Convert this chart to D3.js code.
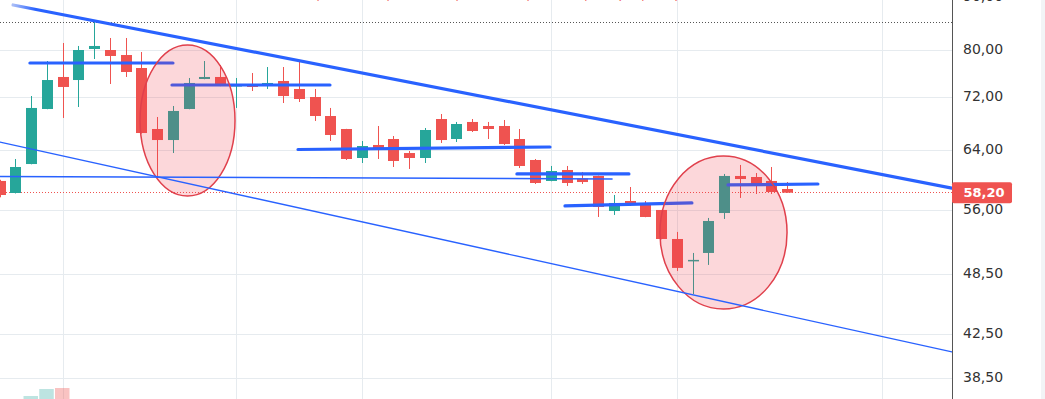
<!DOCTYPE html>
<html>
<head>
<meta charset="utf-8">
<script src="https://cdn.jsdelivr.net/npm/d3@7"></script>
<style>
  body { margin: 0; background: #fff; overflow: hidden; }
  svg { display: block; font-family: 'DejaVu Sans', sans-serif; }
</style>
</head>
<body>
<script>
// daily candles, oldest first (prices)
const opens  = [59.74, 58.16, 62.04, 70.14, 75.33, 74.82, 80.18, 80.00, 79.11, 76.85,
                67.08, 65.45, 70.14, 74.99, 75.33, 73.83, 74.16, 74.16, 74.66, 73.34,
                72.04, 69.05, 67.08, 62.88, 64.73, 65.60, 63.58, 62.88, 68.59, 65.60,
                68.14, 67.53, 67.53, 65.60, 62.60, 59.74, 61.22, 60.07, 60.41, 55.87,
                57.13, 56.63, 56.00, 52.49, 49.98, 50.88, 55.62, 60.41, 60.27, 59.74,
                58.68]
const highs  = [59.90, 62.74, 72.20, 78.06, 81.26, 80.72, 85.15, 82.17, 82.17, 79.64,
                68.90, 70.61, 75.16, 78.06, 77.37, 75.16, 76.00, 77.02, 77.02, 78.06,
                73.34, 70.30, 67.10, 65.31, 67.53, 66.04, 63.87, 67.23, 69.36, 68.14,
                68.59, 68.14, 68.44, 67.08, 62.74, 61.77, 61.77, 60.95, 60.45, 57.90,
                58.94, 57.13, 56.00, 53.32, 50.88, 55.01, 60.68, 61.91, 60.81, 61.63,
                59.60]
const lows   = [57.60, 58.10, 62.00, 70.10, 68.75, 70.45, 78.41, 74.16, 75.33, 66.40,
                60.14, 63.58, 70.10, 74.95, 73.80, 70.30, 73.01, 73.34, 71.08, 71.24,
                68.29, 65.31, 62.60, 62.18, 62.74, 61.63, 61.36, 62.18, 65.02, 65.16,
                66.63, 65.60, 64.73, 61.49, 59.34, 59.70, 59.08, 59.34, 55.13, 55.38,
                56.50, 55.10, 52.45, 48.88, 46.43, 49.54, 54.89, 57.52, 58.03, 58.03,
                58.20]
const closes = [57.90, 61.63, 70.30, 74.82, 73.67, 80.00, 80.72, 78.94, 76.17, 66.48,
                65.45, 69.83, 74.33, 75.33, 73.83, 73.99, 73.67, 74.33, 72.20, 71.72,
                69.05, 66.19, 62.74, 64.58, 64.15, 62.46, 62.88, 66.93, 65.45, 67.83,
                66.78, 67.08, 64.87, 61.77, 59.47, 61.08, 59.47, 59.60, 56.37, 56.88,
                56.75, 55.13, 52.49, 49.21, 50.10, 54.64, 60.41, 60.00, 59.08, 58.29,
                58.20]
// only the first few volume bars reach into view
const volumes = [null, null, 0.9, 1.95, 2.1]

const yTicks = [38.5, 42.5, 48.5, 56, 64, 72, 80, 90]
const periodStarts = [4, 15, 23, 35, 43, 56]
const lastPrice = 58.20
const highPrice = 85.15
const legendValues = ['58,70', '59,60', '58,20', '58,20', '−0,10', '(−0,17%)']

// drawings in (bar index, price)
const channelTop = [[0.85, 88.45], [60.46, 58.8]]
const channelBottom = [[0.02, 65.16], [60.46, 40.8]]
const supportLine = [[0.02, 60.34], [38.88, 60.0]]
const levels = [
  [[1.92, 77.71], [11.0, 77.71]],
  [[10.94, 73.99], [20.97, 73.99]],
  [[18.94, 64.08], [34.94, 64.44]],
  [[32.84, 60.68], [39.95, 60.68]],
  [[35.89, 56.5], [43.95, 56.88]],
  [[46.24, 59.21], [51.95, 59.34]]
]
// zones: [left index, right index, top price, bottom price]
const zones = [
  [8.91, 14.94, 80.9, 57.77],
  [41.92, 49.99, 63.16, 44.9]
]

const candles = opens.map((o, i) => ({i: i, o: o, h: highs[i], l: lows[i], c: closes[i]}))

const width = 1045
const height = 399
const plotW = 952
const up = '#26a69a'
const down = '#ef5350'
const blue = '#2962ff'

const xScale = d3.scaleLinear().domain([0, 60]).range([-0.3, 944.7])
const yScale = d3.scaleLog().domain([38.5, 80]).range([378, 50])
const volScale = d3.scaleLinear().domain([0, 3]).range([402, 382])

const svg = d3.select('body').append('svg')
  .attr('width', width)
  .attr('height', height)

const defs = svg.append('defs')
defs.append('clipPath')
  .attr('id', 'plot')
  .append('rect')
  .attr('width', plotW)
  .attr('height', height)

const fade = defs.append('linearGradient')
  .attr('id', 'fade')
  .attr('gradientUnits', 'userSpaceOnUse')
  .attr('x1', xScale(channelTop[0][0]))
  .attr('x2', xScale(channelTop[0][0]) + 22)
fade.append('stop').attr('offset', 0).attr('stop-color', '#a9bdf7')
fade.append('stop').attr('offset', 1).attr('stop-color', blue)

svg.append('rect')
  .attr('x', 1041)
  .attr('width', 4)
  .attr('height', height)
  .attr('fill', '#f2f4f6')

const chart = svg.append('g').attr('clip-path', 'url(#plot)')

// grid
chart.append('g').selectAll('line')
  .data(yTicks)
  .enter()
  .append('line')
  .attr('x1', 0)
  .attr('x2', plotW)
  .attr('y1', d => Math.round(yScale(d)) + 0.5)
  .attr('y2', d => Math.round(yScale(d)) + 0.5)
  .attr('stroke', '#e6ebef')

chart.append('g').selectAll('line')
  .data(periodStarts)
  .enter()
  .append('line')
  .attr('x1', d => Math.round(xScale(d)) + 0.5)
  .attr('x2', d => Math.round(xScale(d)) + 0.5)
  .attr('y1', 0)
  .attr('y2', height)
  .attr('stroke', '#e6ebef')

// volume
chart.append('g').selectAll('rect')
  .data(volumes.map((v, i) => ({i: i, v: v})).filter(d => d.v !== null))
  .enter()
  .append('rect')
  .attr('x', d => xScale(d.i) - 7.7)
  .attr('width', 14.5)
  .attr('y', d => volScale(d.v))
  .attr('height', d => volScale(0) - volScale(d.v))
  .attr('fill', d => candles[d.i].c >= candles[d.i].o ? 'rgba(38,166,154,0.3)' : 'rgba(239,83,80,0.35)')

// price lines
chart.append('line')
  .attr('x1', 0).attr('x2', plotW)
  .attr('y1', Math.round(yScale(highPrice)) + 0.5)
  .attr('y2', Math.round(yScale(highPrice)) + 0.5)
  .attr('stroke', '#555')
  .attr('stroke-dasharray', '1,2')

chart.append('line')
  .attr('x1', 0).attr('x2', plotW)
  .attr('y1', Math.round(yScale(lastPrice)) - 0.5)
  .attr('y2', Math.round(yScale(lastPrice)) - 0.5)
  .attr('stroke', down)
  .attr('stroke-dasharray', '1,2')

// candles
const candle = chart.append('g').selectAll('g')
  .data(candles)
  .enter()
  .append('g')
  .attr('fill', d => d.c >= d.o ? up : down)
  .attr('stroke', d => d.c >= d.o ? up : down)

candle.append('line')
  .attr('x1', d => Math.round(xScale(d.i)) + 0.5)
  .attr('x2', d => Math.round(xScale(d.i)) + 0.5)
  .attr('y1', d => yScale(d.h))
  .attr('y2', d => yScale(d.l))

candle.append('rect')
  .attr('stroke', 'none')
  .attr('x', d => Math.round(xScale(d.i)) - 5)
  .attr('width', 11)
  .attr('y', d => yScale(Math.max(d.o, d.c)))
  .attr('height', d => Math.max(1.5, yScale(Math.min(d.o, d.c)) - yScale(Math.max(d.o, d.c))))

// drawings
const seg = (g, p, w) => g.append('line')
  .attr('x1', xScale(p[0][0]))
  .attr('y1', yScale(p[0][1]))
  .attr('x2', xScale(p[1][0]))
  .attr('y2', yScale(p[1][1]))
  .attr('stroke', blue)
  .attr('stroke-width', w)
  .attr('stroke-linecap', 'round')

const drawings = chart.append('g')
levels.forEach(p => seg(drawings, p, 3.2))

drawings.selectAll('ellipse')
  .data(zones)
  .enter()
  .append('ellipse')
  .attr('cx', d => (xScale(d[0]) + xScale(d[1])) / 2)
  .attr('cy', d => (yScale(d[2]) + yScale(d[3])) / 2)
  .attr('rx', d => (xScale(d[1]) - xScale(d[0])) / 2)
  .attr('ry', d => (yScale(d[3]) - yScale(d[2])) / 2)
  .attr('fill', 'rgba(242,54,69,0.2)')
  .attr('stroke', '#e0404c')
  .attr('stroke-width', 1.5)

seg(drawings, supportLine, 1.5)
seg(drawings, channelBottom, 1.3)
seg(drawings, channelTop, 3.2).attr('stroke', 'url(#fade)')

// cut-off legend line at the very top
svg.append('g').selectAll('text')
  .data(legendValues)
  .enter()
  .append('text')
  .attr('x', (d, i) => [300, 370, 439, 510, 565, 617][i])
  .attr('y', -0.5)
  .attr('font-size', 13)
  .attr('fill', down)
  .text(d => d)

// price axis
svg.append('line')
  .attr('x1', plotW + 0.5).attr('x2', plotW + 0.5)
  .attr('y1', 0).attr('y2', height)
  .attr('stroke', '#555')

const yAxis = d3.axisRight(yScale)
  .tickValues(yTicks)
  .tickSize(0)
  .tickPadding(11)
  .tickFormat(d => d3.format('.2f')(d).replace('.', ','))

const axisG = svg.append('g')
  .attr('transform', `translate(${plotW}, -1)`)
  .call(yAxis)
axisG.select('.domain').remove()
axisG.attr('font-size', 14)
  .attr('font-family', "'DejaVu Sans', sans-serif")
axisG.selectAll('text').attr('fill', '#333')

// last price tag
svg.append('rect')
  .attr('x', plotW)
  .attr('y', yScale(lastPrice) - 10.5)
  .attr('width', 60)
  .attr('height', 21)
  .attr('rx', 2)
  .attr('fill', down)

svg.append('text')
  .attr('x', plotW + 32)
  .attr('y', yScale(lastPrice))
  .attr('dy', '0.35em')
  .attr('text-anchor', 'middle')
  .attr('font-size', 13)
  .attr('font-weight', 'bold')
  .attr('fill', '#fff')
  .text(d3.format('.2f')(lastPrice).replace('.', ','))
</script>
</body>
</html>
